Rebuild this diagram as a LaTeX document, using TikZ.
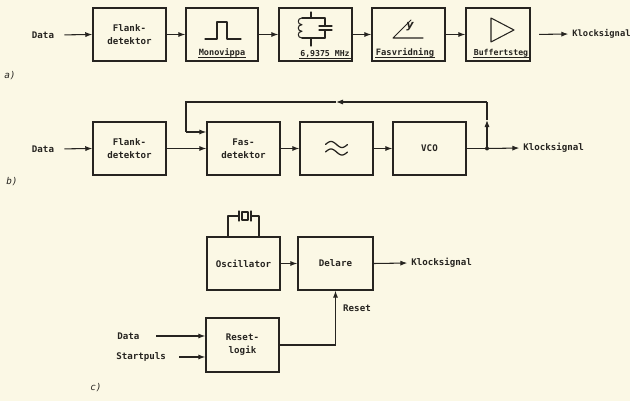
\documentclass[tikz,border=0pt]{standalone}
\usepackage{fontspec}
\setmainfont{DejaVu Sans Mono}
\newfontfamily\symfont{DejaVu Sans}
\usetikzlibrary{arrows.meta}
\definecolor{bg}{RGB}{251,248,229}
\definecolor{ink}{RGB}{38,36,32}
\begin{document}
\begin{tikzpicture}[x=0.03cm,y=-0.03cm,
  box/.style={draw=ink, line width=1.2pt, minimum width=2.19cm, minimum height=1.59cm,
    inner sep=0pt, align=center, text=ink, font=\bfseries\fontsize{7.8}{11}\selectfont},
  lbl/.style={text=ink, inner sep=1pt, font=\bfseries\fontsize{7.8}{9}\selectfont},
  sub/.style={lbl, anchor=base, inner sep=0.5pt},
  wire/.style={draw=ink, line width=0.9pt},
  arr/.style={wire, -{Latex[length=6pt,width=4.4pt]}},
  icon/.style={draw=ink, line width=0.9pt, line join=round, line cap=round},
  uline/.style={draw=ink, line width=0.9pt}
]
\fill[bg] (0,0) rectangle (630,401);
\useasboundingbox (0,0) rectangle (630,401);

% ---------------- a) ----------------
\node[lbl] (adata) at (43,35) {Data};
\node[box] (aflank) at (129.5,34.5) {Flank-\\detektor};
\node[box, minimum width=2.16cm] (amono) at (222,34.5) {};
\node[box] (axtal) at (315.5,34.5) {};
\node[box] (afas) at (408.5,34.5) {};
\node[box, minimum width=1.92cm] (abuf) at (498,34.5) {};
\node[lbl, anchor=west, font=\bfseries\fontsize{7.5}{9}\selectfont] (aout) at (571,34) {Klocksignal};
\node[lbl, font=\itshape\fontsize{8}{9}\selectfont] (la) at (10,76) {a)};

\draw[arr, shorten <=0.27cm] (adata.east) -- (aflank.west);
\draw[arr] (aflank.east) -- (amono.west);
\draw[arr] (amono.east) -- (axtal.west);
\draw[arr] (axtal.east) -- (afas.west);
\draw[arr] (afas.east) -- (abuf.west);
\draw[arr, shorten <=0.25cm, shorten >=0.08cm] (abuf.east) -- (aout.west);

% monovippa
\draw[icon] (205,39) -- (217,39) -- (217,22) -- (227,22) -- (227,39) -- (241,39);
\node[sub, font=\bfseries\fontsize{7.3}{8}\selectfont] (lmono) at (222,56) {Monovippa};
\draw[uline] ([yshift=-1.4pt]lmono.base west) -- ([yshift=-1.4pt]lmono.base east);

% crystal tank
\draw[icon] (311,12) -- (311,18);
\draw[icon] (302,18) -- (325,18);
\draw[icon] (302,18) .. controls (297,18) and (297,24.7) .. (302,24.7)
  .. controls (297,24.7) and (297,31.3) .. (302,31.3)
  .. controls (297,31.3) and (297,38) .. (302,38);
\draw[icon] (325,18) -- (325,26);
\draw[icon] (319,26) -- (332,26);
\draw[icon] (319,30) -- (332,30);
\draw[icon] (325,30) -- (325,38);
\draw[icon] (302,38) -- (325,38);
\draw[icon] (311,38) -- (311,46);
\node[sub, font=\bfseries\fontsize{7}{8}\selectfont] (lxtal) at (325,57) {6,9375 MHz};
\draw[uline] ([yshift=-1.4pt]lxtal.base west) -- ([yshift=-1.4pt]lxtal.base east);

% fasvridning
\draw[icon] (423,38) -- (393,38) -- (411,20);
\node[text=ink, inner sep=0pt, font=\symfont\bfseries\itshape\fontsize{9.5}{9.5}\selectfont] (phi) at (410,27) {y};
\node[sub, font=\bfseries\fontsize{7.5}{8}\selectfont] (lfas) at (405,56) {Fasvridning};
\draw[uline] ([yshift=-1.4pt]lfas.base west) -- ([yshift=-1.4pt]lfas.base east);

% buffertsteg
\draw[icon] (491,18) -- (514,30) -- (491,42) -- cycle;
\node[sub, font=\bfseries\fontsize{7}{8}\selectfont] (lbuf) at (501,56) {Buffertsteg};
\draw[uline] ([yshift=-1.4pt]lbuf.base west) -- ([yshift=-1.4pt]lbuf.base east);

% ---------------- b) ----------------
\node[lbl] (bdata) at (43,149) {Data};
\node[box] (bflank) at (129.5,148.5) {Flank-\\detektor};
\node[box] (bfas) at (243.5,148.5) {Fas-\\detektor};
\node[box] (bfilt) at (336.5,148.5) {};
\node[box] (bvco) at (429.5,148.5) {VCO};
\coordinate (j) at (487,148.5);
\node[lbl, anchor=west] (bout) at (522,148) {Klocksignal};
\node[lbl, font=\itshape\fontsize{8}{9}\selectfont] (lb) at (12,182) {b)};

\draw[arr, shorten <=0.27cm] (bdata.east) -- (bflank.west);
\draw[arr] (bflank.east) -- (bfas.west);
\draw[arr] (bfas.east) -- (bfilt.west);
\draw[arr] (bfilt.east) -- (bvco.west);
\draw[wire] (bvco.east) -- (j);
\fill[ink] (j) circle[radius=1.7pt];
\draw[arr, shorten >=0.08cm] (j) -- (bout.west);
% feedback
\coordinate (f1) at (487,120);
\coordinate (f2) at (487,102);
\coordinate (f3) at (336,102);
\coordinate (f4) at (186,102);
\coordinate (f5) at (186,132);
\draw[arr] (j) -- (f1);
\draw[wire] (f1) -- (f2);
\draw[arr] (f2) -- (f3);
\draw[wire] (f3) -- (f4) -- (f5);
\draw[arr] (f5) -- (f5 -| bfas.west);
% filter symbol
\draw[icon, line width=1.1pt] plot[domain=0:1, samples=25] ({325.5+22*\x},{144.5-3*sin(360*\x)});
\draw[icon, line width=1.1pt] plot[domain=0:1, samples=25] ({325.5+22*\x},{152-3*sin(360*\x)});

% ---------------- c) ----------------
\node[box] (cosc) at (243.5,263.5) {Oscillator};
\node[box, minimum width=2.25cm] (cdel) at (335.5,263.5) {Delare};
\node[box, minimum height=1.62cm] (crst) at (242.5,345) {Reset-\\logik};
\node[lbl, anchor=west] (cout) at (410,263) {Klocksignal};
\node[lbl] (creset) at (357,308) {Reset};
\node[lbl, anchor=west] (cdata) at (116,336) {Data};
\node[lbl, anchor=west] (cstart) at (115,357) {Startpuls};
\node[lbl, font=\itshape\fontsize{8}{9}\selectfont] (lc) at (96,388) {c)};

\draw[arr] (cosc.east) -- (cdel.west);
\draw[arr, shorten >=0.08cm] (cdel.east) -- (cout.west);
\coordinate (d1) at (156,336);
\coordinate (d2) at (179,357);
\draw[arr] (d1) -- (d1 -| crst.west);
\draw[arr] (d2) -- (d2 -| crst.west);
\draw[arr] (crst.east) -| (cdel.south);
% crystal on oscillator
\coordinate (x1) at (228,237);
\coordinate (x2) at (259,237);
\draw[icon] (x1) -- (228,216) -- (239,216);
\draw[icon] (x2) -- (259,216) -- (251,216);
\draw[icon] (239,211) -- (239,221);
\draw[icon] (251,211) -- (251,221);
\draw[icon] (242,212) rectangle (248,220);
\end{tikzpicture}
\end{document}
